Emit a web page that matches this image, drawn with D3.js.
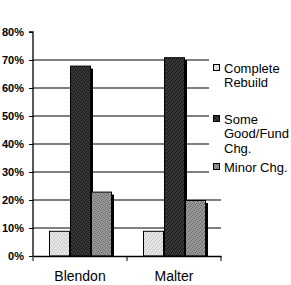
<!DOCTYPE html>
<html>
<head>
<meta charset="utf-8">
<script src="https://cdn.jsdelivr.net/npm/d3@7"></script>
<style>
  body { margin: 0; background: #fff; }
  svg { display: block; font-family: "Liberation Sans", Arial, sans-serif; }
</style>
</head>
<body>
<svg id="chart" width="291" height="285"></svg>
<script>
// data
const categories = ["Blendon", "Malter"];
const series = ["Complete Rebuild", "Some Good/Fund Chg.", "Minor Chg."];
const completeRebuild = [9, 9];
const someGoodFund = [68, 71];
const minorChg = [23, 20];
const yTicks = [0, 10, 20, 30, 40, 50, 60, 70, 80];
const legendLines = [["Complete", "Rebuild"], ["Some", "Good/Fund", "Chg."], ["Minor Chg."]];

const values = [completeRebuild, someGoodFund, minorChg];
const colors = ["#e6e6e6", "#383838", "#979797"];
const dots = ["#c4c4c4", "#111", "#6a6a6a"];

const svg = d3.select("#chart");

// stipple patterns
const defs = svg.append("defs");
colors.forEach((c, i) => {
  const p = defs.append("pattern")
    .attr("id", "pat" + i)
    .attr("width", 4).attr("height", 4)
    .attr("patternUnits", "userSpaceOnUse");
  p.append("rect").attr("width", 4).attr("height", 4).attr("fill", c);
  [[0, 0], [2, 1], [1, 3], [3, 2]].forEach(d => {
    p.append("rect").attr("x", d[0]).attr("y", d[1]).attr("width", 1).attr("height", 1).attr("fill", dots[i]);
  });
});

const mLeft = 33, mRight = 221, mTop = 32, mBottom = 256;

const x0 = d3.scaleBand().domain(categories).range([mLeft, mRight]);
const x1 = d3.scaleBand().domain(series).range([16, x0.bandwidth() - 15]);
const y = d3.scaleLinear().domain([0, 80]).range([mBottom, mTop]);

// gridlines
svg.append("g")
  .selectAll("line")
  .data(yTicks.filter(d => d > 0 && d < 80))
  .join("line")
  .attr("x1", mLeft).attr("x2", mRight)
  .attr("y1", d => y(d)).attr("y2", d => y(d))
  .attr("stroke", "#000").attr("stroke-width", 1);

// bars
const groups = svg.append("g")
  .selectAll("g")
  .data(categories)
  .join("g")
  .attr("transform", d => `translate(${x0(d)},0)`);

groups.each(function(cat, ci) {
  const g = d3.select(this);
  series.forEach((s, si) => {
    const v = values[si][ci];
    // shadow
    g.append("rect")
      .attr("x", x1(s) + x1.bandwidth())
      .attr("y", y(v) + 3)
      .attr("width", 2)
      .attr("height", mBottom - y(v) - 3)
      .attr("fill", "#000");
    g.append("rect")
      .attr("x", x1(s) + 0.5)
      .attr("y", y(v) + 0.5)
      .attr("width", x1.bandwidth() - 1)
      .attr("height", mBottom - y(v) - 0.5)
      .attr("fill", `url(#pat${si})`)
      .attr("stroke", "#000")
      .attr("stroke-width", 1);
  });
});

// y axis
const yAxis = svg.append("g")
  .attr("transform", `translate(${mLeft},0)`)
  .call(d3.axisLeft(y).tickValues(yTicks).tickSize(4).tickPadding(5).tickFormat(d => d + "%"));
yAxis.select(".domain").attr("stroke", "#000").attr("stroke-width", 1.3).attr("d", `M-4,${mTop}H0V${mBottom}`);
yAxis.selectAll("text").attr("font-size", 11).attr("font-weight", "bold").attr("fill", "#000")
  .attr("font-family", "Liberation Sans, Arial, sans-serif");

// x axis
const xAxis = svg.append("g")
  .attr("transform", `translate(0,${mBottom})`)
  .call(d3.axisBottom(x0).tickSize(0).tickPadding(15));
xAxis.select(".domain").attr("stroke", "#000").attr("stroke-width", 1.3);
xAxis.selectAll("text").attr("font-size", 14).attr("fill", "#000")
  .attr("font-family", "Liberation Sans, Arial, sans-serif");
xAxis.selectAll("line.sep")
  .data([mLeft, mLeft + x0.bandwidth(), mRight])
  .join("line")
  .attr("class", "sep")
  .attr("x1", d => d).attr("x2", d => d)
  .attr("y1", 0).attr("y2", 5)
  .attr("stroke", "#000");

// legend
const legend = svg.append("g");
legend.append("rect")
  .attr("x", 209).attr("y", 50).attr("width", 82).attr("height", 130)
  .attr("fill", "#fff");
const legendY = [68, 119, 167];
legendLines.forEach((lines, i) => {
  legend.append("rect")
    .attr("x", 213.5).attr("y", legendY[i] - 3.5)
    .attr("width", 6).attr("height", 6)
    .attr("fill", `url(#pat${i})`)
    .attr("stroke", "#000");
  lines.forEach((t, j) => {
    legend.append("text")
      .attr("x", 224)
      .attr("y", legendY[i] + j * 14.5)
      .attr("dy", "0.36em")
      .attr("font-size", 13)
      .text(t);
  });
});
</script>
</body>
</html>
